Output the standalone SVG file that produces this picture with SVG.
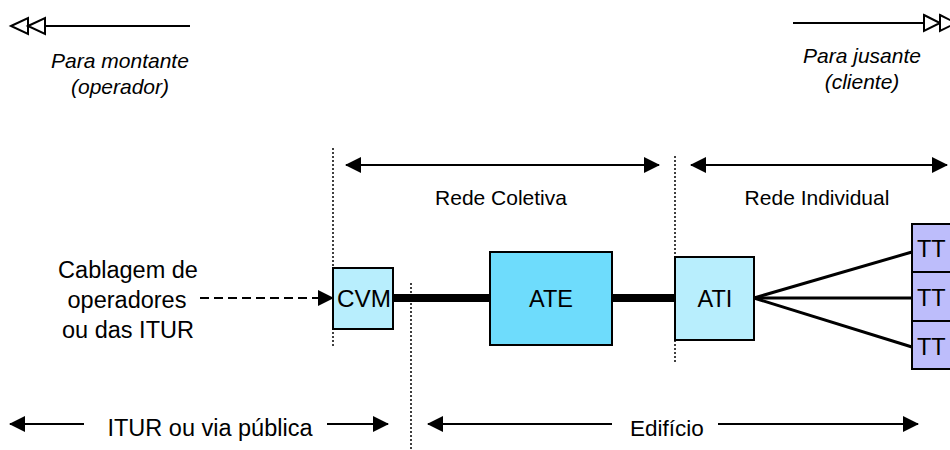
<svg xmlns="http://www.w3.org/2000/svg" width="950" height="450" viewBox="0 0 950 450">
  <defs>
    <style>
      text { font-family: "Liberation Sans", Arial, sans-serif; fill: #000; }
      .mid { text-anchor: middle; }
      .sm { font-size: 21px; }
      .md { font-size: 22.5px; }
      .lg { font-size: 23.5px; }
      .it { font-size: 21px; font-style: italic; text-anchor: middle; }
      .cv { fill: #B8EEFD; stroke: #000; stroke-width: 2; }
      .ate { fill: #6EDCFC; stroke: #000; stroke-width: 2; }
      .tt { fill: #BDBDFB; stroke: #000; stroke-width: 2; }
      .dot { stroke: #000; stroke-width: 1.5; stroke-dasharray: 2 2; fill: none; }
      .ln { stroke: #000; stroke-width: 2; fill: none; }
      .thick { stroke: #000; stroke-width: 8; fill: none; }
      .fan { stroke: #000; stroke-width: 3; fill: none; }
      .open { fill: #fff; stroke: #000; stroke-width: 2; }
    </style>
    <marker id="head" viewBox="0 0 16 16" refX="15" refY="8" markerWidth="16" markerHeight="16" markerUnits="userSpaceOnUse" orient="auto-start-reverse">
      <path d="M0,0 L16,8 L0,16 Z" fill="#000"/>
    </marker>
  </defs>

  <!-- direction indicators -->
  <g id="upstream">
    <line class="ln" x1="45" y1="26" x2="190" y2="26"/>
    <polygon class="open" points="11,26 28,18 28,34"/>
    <polygon class="open" points="28,26 45,18 45,34"/>
    <text class="it" x="120" y="68">Para montante</text>
    <text class="it" x="120" y="94">(operador)</text>
  </g>
  <g id="downstream">
    <line class="ln" x1="793" y1="23" x2="924" y2="23"/>
    <polygon class="open" points="924,15 940,23 924,31"/>
    <polygon class="open" points="940,15 956,23 940,31"/>
    <text class="it" x="862" y="63">Para jusante</text>
    <text class="it" x="862" y="89">(cliente)</text>
  </g>

  <!-- boundaries -->
  <g id="boundaries">
    <line class="dot" x1="333" y1="148" x2="333" y2="348"/>
    <line class="dot" x1="411" y1="283" x2="411" y2="450"/>
    <line class="dot" x1="675" y1="156" x2="675" y2="362"/>
  </g>

  <!-- connectors -->
  <g id="connectors">
    <line class="ln" x1="200" y1="298" x2="333" y2="298" stroke-dasharray="9 5" marker-end="url(#head)"/>
    <line class="thick" x1="393" y1="298" x2="490" y2="298"/>
    <line class="thick" x1="612" y1="298" x2="675" y2="298"/>
    <line class="fan" x1="754" y1="298" x2="912" y2="252"/>
    <line class="fan" x1="754" y1="298" x2="912" y2="298"/>
    <line class="fan" x1="754" y1="298" x2="912" y2="347"/>
    <!-- extents -->
    <line class="ln" x1="346" y1="165" x2="659" y2="165" marker-start="url(#head)" marker-end="url(#head)"/>
    <line class="ln" x1="691" y1="165" x2="947" y2="165" marker-start="url(#head)" marker-end="url(#head)"/>
    <line class="ln" x1="10" y1="424" x2="84" y2="424" marker-start="url(#head)"/>
    <line class="ln" x1="327" y1="424" x2="388" y2="424" marker-end="url(#head)"/>
    <line class="ln" x1="428" y1="424" x2="612" y2="424" marker-start="url(#head)"/>
    <line class="ln" x1="718" y1="424" x2="918" y2="424" marker-end="url(#head)"/>
  </g>

  <!-- nodes -->
  <g id="cablagem">
    <text class="mid lg" x="128" y="278">Cablagem de</text>
    <text class="mid lg" x="127" y="308">operadores</text>
    <text class="mid lg" x="128" y="338">ou das ITUR</text>
  </g>
  <g id="cvm">
    <rect class="cv" x="333" y="268" width="60" height="61"/>
    <text class="mid lg" x="364" y="307" textLength="54" lengthAdjust="spacingAndGlyphs">CVM</text>
  </g>
  <g id="ate">
    <rect class="ate" x="490" y="252" width="122" height="93"/>
    <text class="mid lg" x="551" y="307">ATE</text>
  </g>
  <g id="ati">
    <rect class="cv" x="675" y="257" width="79" height="83"/>
    <text class="mid lg" x="715" y="307">ATI</text>
  </g>
  <g id="tt1">
    <rect class="tt" x="912" y="224" width="50" height="48"/>
    <text class="lg" x="917" y="257">TT</text>
  </g>
  <g id="tt2">
    <rect class="tt" x="912" y="272" width="50" height="49"/>
    <text class="lg" x="917" y="306">TT</text>
  </g>
  <g id="tt3">
    <rect class="tt" x="912" y="321" width="50" height="48"/>
    <text class="lg" x="917" y="355">TT</text>
  </g>

  <!-- zone labels -->
  <g id="labels">
    <text class="mid sm" x="501" y="205">Rede Coletiva</text>
    <text class="mid sm" x="817" y="205">Rede Individual</text>
    <text class="mid lg" x="210" y="436">ITUR ou via pública</text>
    <text class="mid md" x="667" y="436">Edifício</text>
  </g>
</svg>
